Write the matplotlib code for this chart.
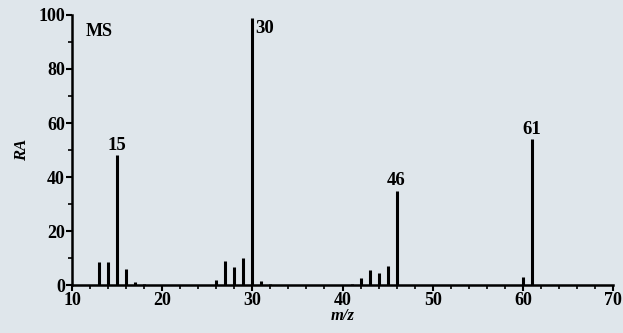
import matplotlib
matplotlib.use("Agg")
import matplotlib.pyplot as plt
from matplotlib.ticker import MultipleLocator

mz = [13, 14, 15, 16, 17, 18, 26, 27, 28, 29, 30, 31, 32, 41, 42, 43, 44, 45, 46, 60, 61]
ra = [8.5, 8.5, 48, 6, 1, 0.5, 2, 9, 6.5, 10, 99, 1.5, 0.5, 0.5, 2.5, 5.5, 4.5, 7, 35, 3, 54]
labeled = [15, 30, 46, 61]

plt.rcParams['font.family'] = ['Liberation Serif', 'DejaVu Serif']
plt.rcParams['font.weight'] = 'bold'

fig = plt.figure(figsize=(6.23, 3.33), dpi=100)
bg = '#dfe6eb'
fig.patch.set_facecolor(bg)
ax = fig.add_axes([72 / 623, 0.144, 541 / 623, 0.811])
ax.set_facecolor(bg)

ax.vlines(mz, 0, ra, colors='black', linewidth=2.2)
for m, r in zip(mz, ra):
    if m in labeled:
        if m == 30:
            ax.text(m + 0.3, r - 1, str(m), ha='left', va='top', fontsize=13.5, fontweight='bold')
        else:
            ax.text(m, r + 0.5, str(m), ha='center', va='bottom', fontsize=13.5, fontweight='bold')

ax.text(11.5, 97, 'MS', ha='left', va='top', fontsize=13, fontweight='bold')

ax.set_xlim(10, 70)
ax.set_ylim(0, 100)
ax.xaxis.set_major_locator(MultipleLocator(10))
ax.xaxis.set_minor_locator(MultipleLocator(2))
ax.yaxis.set_major_locator(MultipleLocator(20))
ax.yaxis.set_minor_locator(MultipleLocator(10))
for s in ['top', 'right']:
    ax.spines[s].set_visible(False)
for s in ['left', 'bottom']:
    ax.spines[s].set_linewidth(1.8)
ax.tick_params(axis='both', which='major', direction='out', length=4, width=1.5, labelsize=13, pad=1)
ax.tick_params(axis='both', which='minor', direction='out', length=3, width=1.2)
for lab in ax.get_xticklabels() + ax.get_yticklabels():
    lab.set_fontweight('bold')

ax.set_xlabel('m/z', fontstyle='italic', fontweight='bold', fontsize=12, labelpad=-1)
ax.set_ylabel('RA', fontstyle='italic', fontweight='bold', fontsize=12, labelpad=6)

fig.savefig('out.png', dpi=100, facecolor=bg)
